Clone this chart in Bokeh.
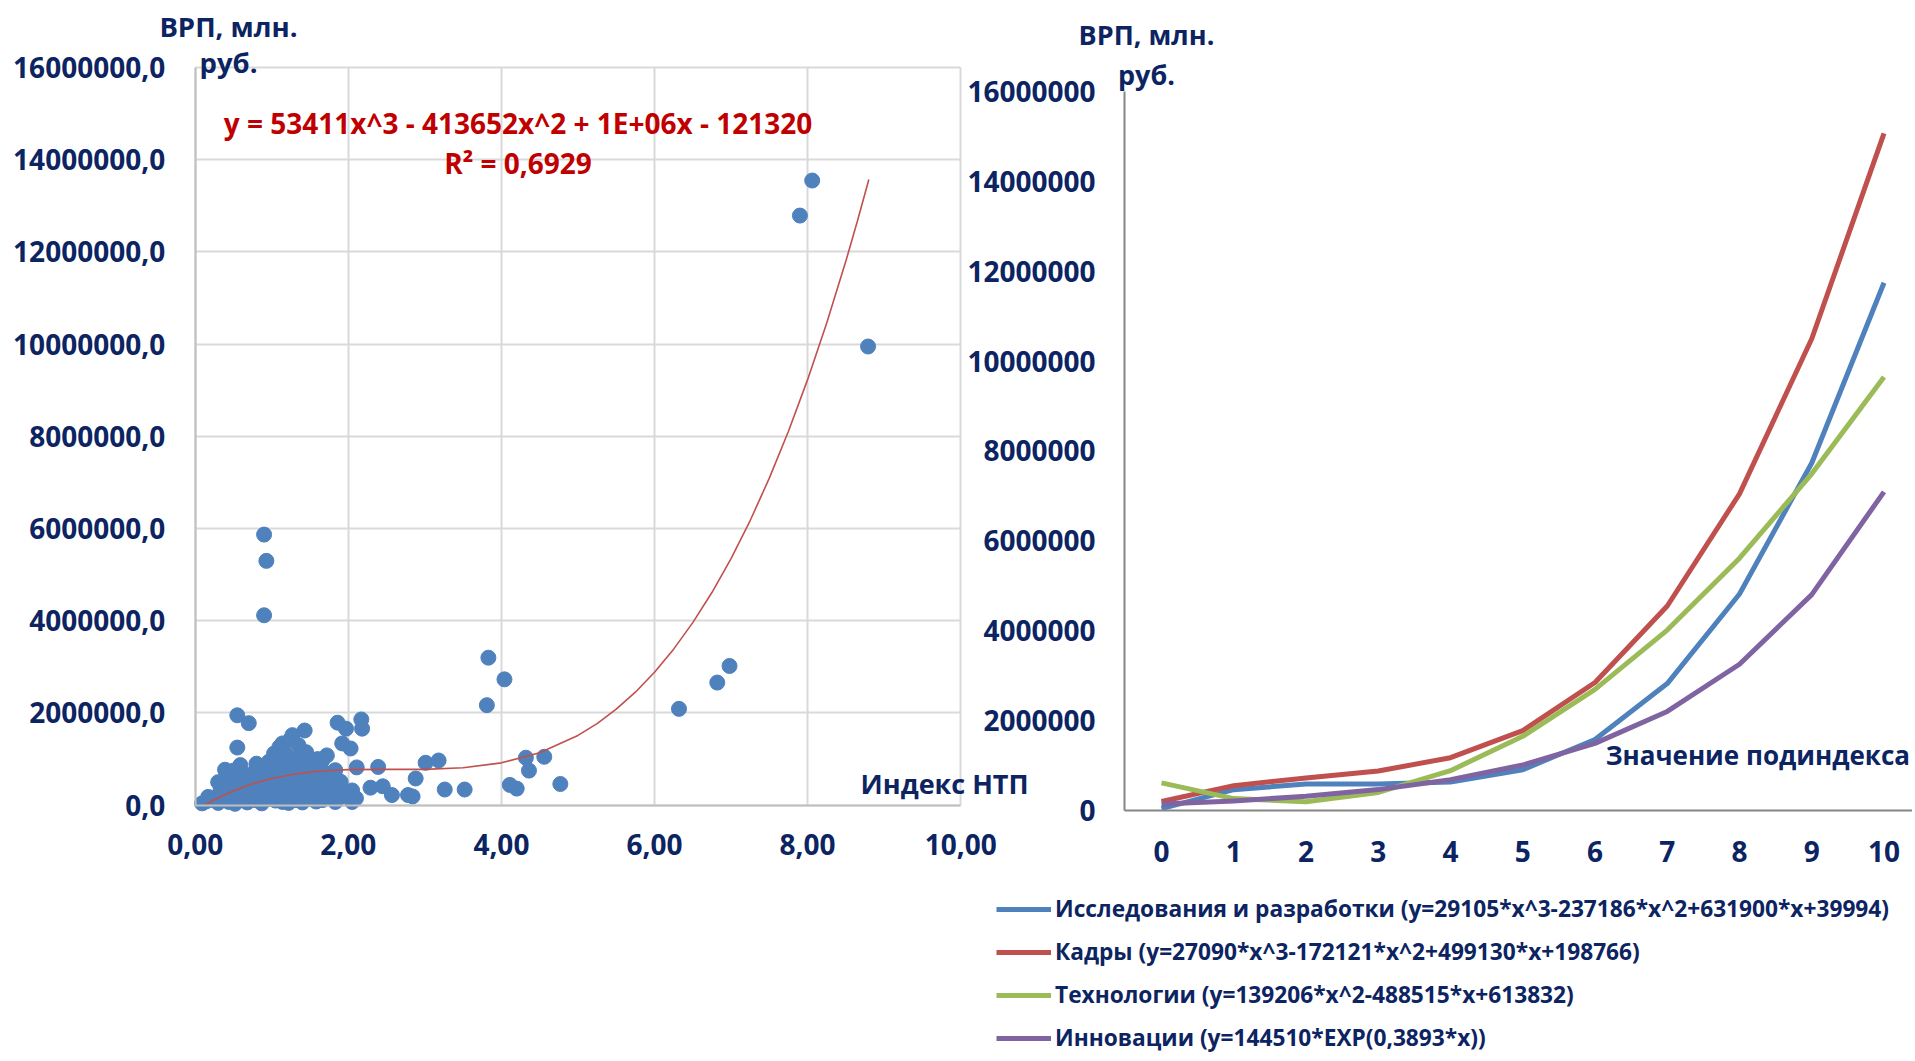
from bokeh.plotting import figure
from bokeh.models import (Range1d, FixedTicker, Label, Legend, LegendItem, LinearAxis, Grid)
from bokeh.embed import file_html
from bokeh.resources import INLINE

NAVY = "#0c2461"
FONT = "Open Sans"

# ---------------- Left chart data: Индекс НТП vs ВРП ----------------
ntp_index = [0.09, 0.14, 0.17, 0.24, 0.30, 0.33, 0.35, 0.39, 0.39, 0.44, 0.45, 0.48, 0.52, 0.52,
             0.55, 0.55, 0.57, 0.59, 0.60, 0.61, 0.62, 0.66, 0.68, 0.70, 0.70, 0.70, 0.74, 0.75,
             0.79, 0.79, 0.82, 0.83, 0.85, 0.87, 0.87, 0.90, 0.93, 0.90, 0.90, 0.92, 0.96, 0.96,
             0.96, 1.00, 1.00, 1.00, 1.03, 1.05, 1.05, 1.06, 1.09, 1.10, 1.12, 1.14, 1.14, 1.14,
             1.18, 1.18, 1.20, 1.22, 1.22, 1.22, 1.24, 1.25, 1.27, 1.28, 1.30, 1.31, 1.31, 1.31,
             1.35, 1.35, 1.40, 1.40, 1.40, 1.42, 1.43, 1.44, 1.45, 1.48, 1.48, 1.50, 1.55, 1.57,
             1.57, 1.58, 1.60, 1.64, 1.66, 1.66, 1.68, 1.70, 1.72, 1.75, 1.75, 1.79, 1.83, 1.83,
             1.86, 1.90, 1.90, 1.92, 1.97, 2.03, 2.05, 2.05, 2.11, 2.17, 2.18, 2.29, 2.39, 2.45,
             2.57, 2.78, 2.84, 2.88, 3.01, 3.18, 3.26, 3.52, 3.81, 3.83, 4.04, 4.11, 4.20, 4.32,
             4.36, 4.56, 4.77, 6.32, 6.82, 6.98, 7.90, 8.06, 8.79,
             0.30, 0.45, 0.50, 0.65, 0.80, 0.90, 1.00, 1.10, 1.15, 1.30, 1.45, 1.55, 1.60, 1.70,
             1.85, 1.95, 2.10, 1.20, 0.95, 0.55]
grp_values = [40000, 80000, 180000, 110000, 50000, 320000, 220000, 770000, 400000, 70000, 150000,
              610000, 470000, 30000, 1950000, 1250000, 320000, 870000, 500000, 180000, 250000,
              650000, 60000, 1780000, 320000, 450000, 580000, 200000, 110000, 760000, 600000,
              470000, 720000, 320000, 40000, 5870000, 5300000, 4120000, 200000, 470000, 140000,
              580000, 940000, 830000, 320000, 450000, 1120000, 690000, 100000, 1010000, 250000,
              1260000, 400000, 70000, 830000, 1340000, 540000, 1120000, 900000, 290000, 720000,
              50000, 1420000, 500000, 1520000, 850000, 620000, 110000, 400000, 1010000, 1300000,
              790000, 180000, 700000, 60000, 940000, 1620000, 540000, 1150000, 140000, 320000,
              600000, 900000, 470000, 220000, 80000, 1000000, 400000, 110000, 970000, 720000,
              200000, 1080000, 540000, 180000, 320000, 760000, 70000, 1790000, 180000, 510000,
              1340000, 1660000, 1230000, 320000, 70000, 820000, 1860000, 1660000, 380000, 830000,
              410000, 220000, 220000, 190000, 580000, 920000, 970000, 340000, 340000, 2170000,
              3200000, 2730000, 440000, 360000, 1030000, 750000, 1050000, 460000, 2090000,
              2660000, 3020000, 12790000, 13550000, 9950000,
              500000, 350000, 750000, 400000, 900000, 600000, 600000, 750000, 950000, 250000,
              450000, 350000, 600000, 450000, 400000, 250000, 150000, 150000, 250000, 120000]

# polynomial trend line
trend_x = [0.12, 0.25, 0.5, 0.75, 1.0, 1.25, 1.5, 1.75, 2.0, 2.5, 3.0, 3.5, 4.0, 4.5, 5.0, 5.25,
           5.5, 5.75, 6.0, 6.25, 6.5, 6.75, 7.0, 7.25, 7.5, 7.75, 8.0, 8.25, 8.5, 8.65, 8.8]
trend_y = [0, 119000, 312000, 464000, 578000, 662000, 718000, 753000, 771000, 778000, 778000,
           812000, 919000, 1139000, 1514000, 1771000, 2082000, 2451000, 2884000, 3385000,
           3960000, 4613000, 5350000, 6175000, 7094000, 8111000, 9231000, 10461000, 11803000,
           12666000, 13572000]

left_x_ticks = [0, 2, 4, 6, 8, 10]
left_x_labels = ["0,00", "2,00", "4,00", "6,00", "8,00", "10,00"]
left_y_ticks = [0, 2000000, 4000000, 6000000, 8000000, 10000000, 12000000, 14000000, 16000000]
left_y_labels = ["0,0", "2000000,0", "4000000,0", "6000000,0", "8000000,0", "10000000,0",
                 "12000000,0", "14000000,0", "16000000,0"]

# ---------------- Right chart data: подиндексы ----------------
subindex = [0, 1, 2, 3, 4, 5, 6, 7, 8, 9, 10]
rd_values = [40000, 464000, 588000, 587000, 635000, 908000, 1579000, 2824000, 4817000, 7733000, 11745000]
staff_values = [199000, 553000, 725000, 878000, 1175000, 1778000, 2849000, 4551000, 7046000, 10498000, 15068000]
tech_values = [614000, 265000, 194000, 401000, 887000, 1651000, 2694000, 4015000, 5615000, 7493000, 9649000]
innov_values = [145000, 213000, 315000, 465000, 686000, 1012000, 1494000, 2205000, 3255000, 4804000, 7091000]
series_names = [
    "Исследования и разработки (y=29105*x^3-237186*x^2+631900*x+39994)",
    "Кадры (y=27090*x^3-172121*x^2+499130*x+198766)",
    "Технологии (y=139206*x^2-488515*x+613832)",
    "Инновации (y=144510*EXP(0,3893*x))",
]
series_colors = ["#4f81bd", "#c0504d", "#9bbb59", "#8064a2"]
right_y_ticks = [0, 2000000, 4000000, 6000000, 8000000, 10000000, 12000000, 14000000, 16000000]
right_y_labels = ["0", "2000000", "4000000", "6000000", "8000000", "10000000", "12000000",
                  "14000000", "16000000"]

W, H = 1912, 1058

# One canvas holding both charts; each chart has its own scales (ranges) and axes.
p = figure(width=W, height=H, output_backend="svg", toolbar_location=None,
           x_range=Range1d(-2.5434, 22.4338), y_range=Range1d(-5494600, 17455500),
           x_axis_location=None, y_axis_location=None,
           min_border=0, min_border_left=0, min_border_right=0,
           min_border_top=0, min_border_bottom=0)
p.outline_line_color = None
p.grid.visible = False
p.extra_x_ranges = {"rx": Range1d(-16.0692, 10.3945)}
p.extra_y_ranges = {"ry": Range1d(-5518800, 18025000)}


def style_axis(ax, color, standoff):
    ax.axis_line_color = color
    ax.axis_line_width = 2
    ax.major_tick_in = 0
    ax.major_tick_out = 0
    ax.minor_tick_in = 0
    ax.minor_tick_out = 0
    ax.major_tick_line_color = None
    ax.minor_tick_line_color = None
    ax.major_label_text_font = FONT
    ax.major_label_text_font_style = "bold"
    ax.major_label_text_font_size = "28px"
    ax.major_label_text_color = NAVY
    ax.major_label_standoff = standoff


# ---- left chart grid ----
GRID = "#d9d9d9"
p.add_layout(Grid(dimension=0, ticker=FixedTicker(ticks=left_x_ticks), cross_bounds=(0, 16000000),
                  grid_line_color=GRID, grid_line_width=2))
p.add_layout(Grid(dimension=1, ticker=FixedTicker(ticks=left_y_ticks), cross_bounds=(0, 10),
                  grid_line_color=GRID, grid_line_width=2))

# ---- left chart axes ----
lx = LinearAxis(fixed_location=0, bounds=(0, 10), ticker=FixedTicker(ticks=left_x_ticks),
                major_label_overrides={int(t): l for t, l in zip(left_x_ticks, left_x_labels)})
style_axis(lx, "#bfbfbf", 29)
p.add_layout(lx, "below")
ly = LinearAxis(fixed_location=0, bounds=(0, 16000000), ticker=FixedTicker(ticks=left_y_ticks),
                major_label_overrides={int(t): l for t, l in zip(left_y_ticks, left_y_labels)})
style_axis(ly, "#bfbfbf", 30)
p.add_layout(ly, "left")

p.scatter(ntp_index, grp_values, size=15, fill_color="#4f81bd", line_color="#4f81bd")
p.line(trend_x, trend_y, line_color="#c0504d", line_width=1.6)


def add_label(x, y, text, size, color=NAVY, align="center", xr="default", yr="default"):
    p.add_layout(Label(x=x, y=y, text=text, text_font=FONT, text_font_style="bold",
                       text_font_size=size, text_color=color, text_align=align,
                       text_baseline="middle", x_range_name=xr, y_range_name=yr))


add_label(4.217, 14790000, "y = 53411x^3 - 413652x^2 + 1E+06x - 121320", "28px", "#c00000")
add_label(4.217, 13940000, "R² = 0,6929", "28px", "#c00000")
add_label(9.79, 470000, "Индекс НТП", "27px")
add_label(0.435, 16900000, "ВРП, млн.", "27.5px")
add_label(0.435, 16120000, "руб.", "27.5px")

# ---- right chart axes ----
rx = LinearAxis(x_range_name="rx", y_range_name="ry", fixed_location=0, bounds=(-0.512, 10.3945),
                ticker=FixedTicker(ticks=subindex))
style_axis(rx, "#868686", 31)
p.add_layout(rx, "below")
ry = LinearAxis(x_range_name="rx", y_range_name="ry", fixed_location=-0.512, bounds=(0, 16000000),
                ticker=FixedTicker(ticks=right_y_ticks),
                major_label_overrides={int(t): l for t, l in zip(right_y_ticks, right_y_labels)})
style_axis(ry, "#868686", 29)
p.add_layout(ry, "left")

renderers = []
for vals, col in zip([rd_values, staff_values, tech_values, innov_values], series_colors):
    renderers.append(p.line(subindex, vals, line_color=col, line_width=5, line_join="round",
                            x_range_name="rx", y_range_name="ry"))

legend = Legend(items=[LegendItem(label=n, renderers=[r]) for n, r in zip(series_names, renderers)],
                location=(996, 5), glyph_width=55, glyph_height=30, label_height=30,
                label_standoff=4, spacing=12, padding=0, margin=0,
                border_line_color=None, background_fill_alpha=0,
                label_text_font=FONT, label_text_font_style="bold",
                label_text_font_size="22.7px", label_text_color=NAVY)
p.add_layout(legend)

add_label(-0.208, 17270000, "ВРП, млн.", "27px", xr="rx", yr="ry")
add_label(-0.208, 16380000, "руб.", "27px", xr="rx", yr="ry")
add_label(10.36, 1224000, "Значение подиндекса", "26px", align="right", xr="rx", yr="ry")

open("out.html", "w").write(file_html(p, INLINE))
